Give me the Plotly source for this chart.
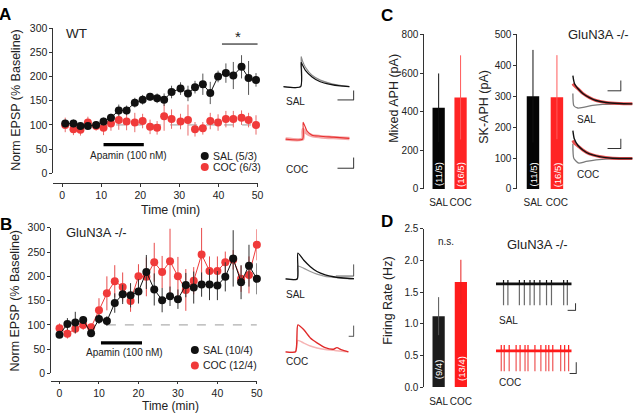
import plotly.graph_objects as go

# ---------------- data ----------------
# Panel A (WT)
A_time = [0.8, 2.9, 4.7, 6.6, 8.7, 10.6, 12.5, 14.5, 16.5, 18.6, 20.6, 22.5, 24.3,
          26.1, 28.0, 30.3, 32.2, 34.0, 36.0, 37.9, 39.9, 41.9, 43.8, 45.9, 47.7, 49.6]
A_sal = [103, 103, 98, 98, 100, 107, 115, 130, 130, 146, 152, 158, 155,
         152, 168, 175, 165, 178, 184, 166, 200, 207, 202, 220, 197, 193]
A_sal_err = [8, 8, 7, 6, 5, 8, 8, 12, 10, 10, 10, 8, 10,
             13, 13, 13, 16, 13, 22, 23, 12, 20, 28, 24, 35, 14]
A_coc = [100, 91, 90, 105, 98, 94, 103, 110, 107, 105, 108, 96, 94,
         118, 112, 107, 110, 91, 93, 108, 105, 112, 112, 115, 110, 100]
A_coc_err = [15, 12, 12, 12, 10, 15, 15, 20, 18, 20, 15, 15, 14,
             30, 20, 16, 32, 15, 13, 17, 17, 17, 17, 15, 15, 20]

# Panel B (GluN3A -/-)
B_time = [0, 2, 4, 6, 8, 10, 12, 14, 16, 18, 20, 22, 24,
          26, 28, 30, 32, 34, 36, 38, 40, 42, 44, 46, 48, 50]
B_sal = [80, 102, 105, 110, 83, 112, 108, 145, 163, 161, 169, 209, 173,
         151, 159, 153, 182, 177, 183, 183, 181, 199, 237, 188, 222, 195]
B_sal_err = [6, 12, 22, 8, 8, 10, 10, 20, 20, 25, 25, 35, 33,
             25, 20, 20, 25, 33, 25, 32, 30, 30, 58, 35, 43, 32]
B_coc = [93, 82, 92, 100, 95, 130, 165, 190, 178, 149, 200, 199, 229,
         209, 231, 200, 172, 191, 245, 211, 211, 229, 234, 195, 203, 265]
B_coc_err = [10, 10, 10, 10, 8, 25, 35, 33, 30, 22, 25, 40, 40,
             33, 67, 40, 43, 28, 55, 30, 30, 22, 20, 27, 38, 32]

# Panel C / D bars
groups = ["SAL", "COC"]
C_mixed = [420, 474]
C_mixed_err = [178, 218]
C_mixed_n = ["(11/5)", "(16/5)"]
C_sk = [300, 297]
C_sk_err = [150, 136]
C_sk_n = ["(11/5)", "(16/5)"]
D_rate = [1.12, 1.66]
D_rate_err = [0.30, 0.35]
D_rate_n = ["(9/4)", "(13/4)"]

# Example traces (relative units)
A_sal_tr_t = [0, 17.5, 18, 19.5, 22.3, 29, 37.3, 47.3, 57.3, 66.7]
A_sal_tr_gray = [0, 0, 31, 26, 20, 11.7, 6.7, 3.3, 1.3, 0]
A_sal_tr_black = [0, 0, 25, 22, 16.7, 10, 5, 2.3, 0.7, 0]
A_coc_tr_t = [2.3, 19.5, 20, 24, 29, 37.3, 50.7, 66.7]
A_coc_tr_red = [0, 0, 17.3, 8.3, 4, 3, 2, 0.7]
A_coc_tr_pink = [0, 0, 10, 6, 3.5, 2.5, 1.5, 0.5]

B_sal_tr_t = [2.3, 14, 14.7, 20.7, 27.3, 34, 42.3, 50.7, 60.7, 71.3]
B_sal_tr_black = [0, 0, 26.7, 19.3, 12.7, 7.7, 4.3, 2.3, 1, 0.3]
B_sal_tr_gray = [0, 0, 13.3, 11, 7.7, 5, 2.7, 1.7, 0.7, 0]
B_coc_tr_t = [2.3, 12.3, 14.7, 20.7, 27.3, 34, 42.3, 50.7, 54, 59, 65.7]
B_coc_tr_dark = [0, 0, 27.7, 22.7, 14.3, 9.3, 4.3, 2.7, 4.3, 2, 0]
B_coc_tr_light = [0, 0, 11.7, 9, 6, 4, 2.5, 1.5, 1, 0.5, 0]

C_sal_tr_t = [2.3, 3, 4, 7.3, 12.3, 19, 25.7, 35.7, 49, 62.3]
C_sal_tr_black = [29.3, 25, 21, 16, 11, 6.7, 3.7, 1.7, 0.7, 0.3]
C_sal_tr_red = [21, 20, 19, 16, 11, 6.7, 3.7, 1.7, 0.7, 0.3]
C_sal_tr_gray_t = [2.3, 3.3, 7.3, 14, 22.3, 32.3, 62.3]
C_sal_tr_gray = [11, -1.7, -4, -3, -1.3, -0.3, 0.3]
C_coc_tr_t = [2.3, 3.7, 7.3, 12.3, 19, 29, 42.3, 62.3]
C_coc_tr_black = [28.7, 20.3, 13.7, 8.7, 4.7, 2, 0.3, 0]
C_coc_tr_red = [18.7, 16, 13, 8.7, 4.7, 2, 0.3, 0]
C_coc_tr_gray_t = [2.3, 3.3, 8.3, 15.7, 25.7, 39, 62.3]
C_coc_tr_gray = [15.3, 0, -4.7, -3, -1.3, -0.3, 0]

D_trace_span = [0.7, 76.9]
D_sal_spikes = [8.3, 12.7, 24.3, 29.3, 35, 39.3, 45, 51.7, 56.7, 69, 72.7]
D_coc_spikes = [6, 9, 14, 21, 25, 30, 33, 40, 46, 51, 54, 58, 66, 70, 74]

# ---------------- style ----------------
FONT = "Arial, Liberation Sans, Helvetica, sans-serif"
BLACK = "#111111"
RED = "#f03a3a"
W, H = 640, 420


def PX(x):
    return x / W


def PY(y):
    return 1 - y / H


fig = go.Figure()

# ---- Panel A ----
fig.add_trace(go.Scatter(x=[0, 50], y=[100, 100], mode="lines", xaxis="x", yaxis="y",
                         line=dict(color="#9a9a9a", width=1, dash="dash"), hoverinfo="skip"))
fig.add_trace(go.Scatter(x=A_time, y=A_coc, mode="markers", xaxis="x", yaxis="y", cliponaxis=False,
                         marker=dict(color=RED, size=8),
                         error_y=dict(type="data", array=A_coc_err, color="#e86a6a", thickness=1, width=0)))
fig.add_trace(go.Scatter(x=A_time, y=A_sal, mode="lines+markers", xaxis="x", yaxis="y", cliponaxis=False,
                         line=dict(color=BLACK, width=1),
                         marker=dict(color=BLACK, size=8),
                         error_y=dict(type="data", array=A_sal_err, color="#555555", thickness=1, width=0)))

# ---- Panel B ----
fig.add_trace(go.Scatter(x=[12, 50], y=[100, 100], mode="lines", xaxis="x2", yaxis="y2",
                         line=dict(color="#9a9a9a", width=1, dash="dash"), hoverinfo="skip"))
fig.add_trace(go.Scatter(x=B_time, y=B_coc, mode="lines+markers", xaxis="x2", yaxis="y2", cliponaxis=False,
                         line=dict(color=RED, width=1),
                         marker=dict(color=RED, size=8),
                         error_y=dict(type="data", array=B_coc_err, color="#e84a4a", thickness=1, width=0)))
fig.add_trace(go.Scatter(x=B_time, y=B_sal, mode="lines+markers", xaxis="x2", yaxis="y2", cliponaxis=False,
                         line=dict(color=BLACK, width=1),
                         marker=dict(color=BLACK, size=8),
                         error_y=dict(type="data", array=B_sal_err, color="#333333", thickness=1, width=0)))


# ---- Bars ----
def add_bars(xa, ya, vals, errs, cols, ecols, width):
    for i in range(2):
        fig.add_trace(go.Bar(x=[i], y=[vals[i]], xaxis=xa, yaxis=ya, width=width,
                             marker=dict(color=cols[i], line=dict(width=0)),
                             error_y=dict(type="data", array=[errs[i]], color=ecols[i], thickness=1, width=0)))


add_bars("x3", "y3", C_mixed, C_mixed_err, ["#050505", "#ff2424"], ["#111111", "#ff5a5a"], 0.56)
add_bars("x4", "y4", C_sk, C_sk_err, ["#050505", "#ff2424"], ["#111111", "#ff5a5a"], 0.52)
add_bars("x5", "y5", D_rate, D_rate_err, ["#1c1c1c", "#ff1c1c"], ["#555555", "#e82020"], 0.55)


def line(xa, ya, x, y, color, width):
    fig.add_trace(go.Scatter(x=x, y=y, mode="lines", xaxis=xa, yaxis=ya, cliponaxis=False,
                             line=dict(color=color, width=width, shape="spline", smoothing=0.6),
                             hoverinfo="skip"))


def segs(xa, ya, xs, lo, hi, color, width):
    xx, yy = [], []
    for s in xs:
        xx += [s, s, None]
        yy += [lo, hi, None]
    fig.add_trace(go.Scatter(x=xx, y=yy, mode="lines", xaxis=xa, yaxis=ya, cliponaxis=False,
                             line=dict(color=color, width=width), hoverinfo="skip"))


# A insets
line("x6", "y6", A_sal_tr_t, A_sal_tr_gray, "#8a8a8a", 1.2)
line("x6", "y6", A_sal_tr_t, A_sal_tr_black, "#111111", 1.2)
line("x7", "y7", A_coc_tr_t, A_coc_tr_pink, "#f5a8a8", 3.5)
line("x7", "y7", A_coc_tr_t, A_coc_tr_red, "#e83030", 1.1)
# B insets
line("x8", "y8", B_sal_tr_t, B_sal_tr_gray, "#9a9a9a", 1.3)
line("x8", "y8", B_sal_tr_t, B_sal_tr_black, "#111111", 1.3)
line("x9", "y9", B_coc_tr_t, B_coc_tr_light, "#f6b4b4", 1.5)
line("x9", "y9", B_coc_tr_t, B_coc_tr_dark, "#e02a2a", 1.4)
# C insets
line("x10", "y10", C_sal_tr_gray_t, C_sal_tr_gray, "#7a7a7a", 1.3)
line("x10", "y10", C_sal_tr_t, C_sal_tr_red, "#e85050", 3)
line("x10", "y10", C_sal_tr_t, C_sal_tr_black, "#111111", 1.4)
line("x11", "y11", C_coc_tr_gray_t, C_coc_tr_gray, "#7a7a7a", 1.3)
line("x11", "y11", C_coc_tr_t, C_coc_tr_red, "#e85050", 3)
line("x11", "y11", C_coc_tr_t, C_coc_tr_black, "#111111", 1.4)
# D insets
segs("x12", "y12", D_sal_spikes, 0, -22, "#6a6a6a", 1.2)
fig.add_trace(go.Scatter(x=D_trace_span, y=[0, 0], mode="lines", xaxis="x12", yaxis="y12",
                         line=dict(color="#111111", width=2.6), hoverinfo="skip"))
segs("x12", "y12", D_sal_spikes, 0, 4, "#111111", 1.2)
segs("x13", "y13", D_coc_spikes, 0, -21, "#ee5555", 1.2)
fig.add_trace(go.Scatter(x=D_trace_span, y=[0, 0], mode="lines", xaxis="x13", yaxis="y13",
                         line=dict(color="#ff1a1a", width=2.8), hoverinfo="skip"))
segs("x13", "y13", D_coc_spikes, 0, 6, "#ff1a1a", 1.2)

# legend glyph markers (A, B)
fig.add_trace(go.Scatter(x=[PX(206.7), PX(206.7), PX(196.7), PX(196.7)],
                         y=[PY(154.3), PY(165.7), PY(354), PY(370)],
                         mode="markers", xaxis="x14", yaxis="y14", cliponaxis=False,
                         marker=dict(color=[BLACK, RED, BLACK, RED], size=8), hoverinfo="skip"))

# ---------------- layout ----------------
tick = dict(showgrid=False, zeroline=False, linecolor="#333", linewidth=1,
            ticks="outside", ticklen=3, tickwidth=1, tickcolor="#333", tickangle=0,
            tickfont=dict(size=10.5, color="#222", family=FONT))


def hidden(domx, domy, rx, ry, anchor):
    return (dict(domain=domx, range=rx, visible=False, fixedrange=True, anchor=anchor[1]),
            dict(domain=domy, range=ry, visible=False, fixedrange=True, anchor=anchor[0]))


small = dict(size=10, color="#222", family=FONT)
layout = dict(
    width=W, height=H, margin=dict(l=0, r=0, t=0, b=0),
    paper_bgcolor="white", plot_bgcolor="rgba(0,0,0,0)",
    showlegend=False, barmode="overlay", font=dict(family=FONT, color="#222"),
    xaxis=dict(tick, domain=[PX(54), PX(260)], range=[-2.2, 50], anchor="free", position=PY(181.7),
               showline=True, tickvals=[0, 10, 20, 30, 40, 50]),
    yaxis=dict(tick, domain=[PY(172.3), PY(22.7)], range=[0, 300], anchor="x", showline=True,
               tickvals=[0, 50, 100, 150, 200, 250, 300]),
    xaxis2=dict(tick, domain=[PX(51.7), PX(259.3)], range=[-2.1, 50], anchor="free", position=PY(386.5),
                showline=True, tickvals=[0, 10, 20, 30, 40, 50], ticklen=2),
    yaxis2=dict(tick, domain=[PY(378.3), PY(228.3)], range=[0, 300], anchor="x2", showline=True,
                tickvals=[0, 50, 100, 150, 200, 250, 300]),
    xaxis3=dict(tick, domain=[PX(428.3), PX(478.2)], range=[-0.656, 1.6], anchor="y3", showline=False,
                tickvals=[0, 1], ticktext=groups, ticklen=4, tickcolor="rgba(0,0,0,0)", tickfont=small),
    yaxis3=dict(tick, domain=[PY(188.3), PY(29.3)], range=[0, 800], anchor="x3", showline=True,
                tickvals=[0, 200, 400, 600, 800], tickfont=small),
    xaxis4=dict(tick, domain=[PX(522.3), PX(576.7)], range=[-0.65, 1.6], anchor="y4", showline=False,
                tickvals=[0, 1], ticktext=groups, ticklen=4, tickcolor="rgba(0,0,0,0)", tickfont=small),
    yaxis4=dict(tick, domain=[PY(188.3), PY(29.3)], range=[0, 500], anchor="x4", showline=True,
                tickvals=[0, 100, 200, 300, 400, 500], tickfont=small),
    xaxis5=dict(tick, domain=[PX(428.3), PX(478.7)], range=[-0.645, 1.6], anchor="y5", showline=False,
                tickvals=[0, 1], ticktext=groups, ticklen=5, tickcolor="rgba(0,0,0,0)", tickfont=small),
    yaxis5=dict(tick, domain=[PY(392.3), PY(229.3)], range=[0, 2.5], anchor="x5", showline=True,
                tickvals=[0, 0.5, 1.0, 1.5, 2.0, 2.5], ticktext=["0.0", "0.5", "1.0", "1.5", "2.0", "2.5"],
                tickfont=small),
)

insets = {
    6: ([PX(286), PX(356)], [PY(86), PY(50)], [0, 70], [-3, 33]),
    7: ([PX(286), PX(356)], [PY(140), PY(115)], [0, 70], [-3, 22]),
    8: ([PX(286), PX(358)], [PY(284), PY(251)], [0, 72], [-3, 30]),
    9: ([PX(286), PX(358)], [PY(359), PY(325)], [0, 72], [-3, 31]),
    10: ([PX(576), PX(640)], [PY(109), PY(68)], [0, 64], [-8, 33]),
    11: ([PX(576), PX(640)], [PY(165), PY(124)], [0, 64], [-8, 33]),
    12: ([PX(500), PX(578)], [PY(311), PY(277)], [0, 78], [-25, 9]),
    13: ([PX(500), PX(578)], [PY(380), PY(343)], [0, 78], [-25, 12]),
    14: ([0, 1], [0, 1], [0, 1], [0, 1]),
}
for k, (dx, dy, rx, ry) in insets.items():
    xa, ya = hidden(dx, dy, rx, ry, ("x%d" % k, "y%d" % k))
    layout["xaxis%d" % k] = xa
    layout["yaxis%d" % k] = ya

anns = []


def ann(text, x, y, size=10.5, xanchor="center", yanchor="middle", xref="paper", yref="paper",
        angle=0, color="#222", bold=False):
    if xref == "paper":
        x = PX(x)
    if yref == "paper":
        y = PY(y)
    anns.append(dict(text=("<b>%s</b>" % text) if bold else text, x=x, y=y, xref=xref, yref=yref,
                     xanchor=xanchor, yanchor=yanchor, showarrow=False, textangle=angle,
                     font=dict(size=size, color=color, family=FONT)))


# panel letters
ann("A", 5, 9, 17, bold=True, color="#000")
ann("B", 6, 225, 17, bold=True, color="#000")
ann("C", 391, 10, 17, bold=True, color="#000")
ann("D", 391, 222, 17, bold=True, color="#000")

# panel A/B texts
ann("Norm EPSP (% Baseline)", 16, 96.7, 12.5, angle=-90)
ann("Norm EPSP (% Baseline)", 15, 303.3, 12.5, angle=-90)
ann("Time (min)", 172.5, 210, 12.5)
ann("Time (min)", 172.5, 412, 12)
ann("WT", 65, 28.3, 13.5, xanchor="left")
ann("GluN3A -/-", 65, 233.3, 13, xanchor="left")
ann("Apamin (100 nM)", 130, 154, 10)
ann("Apamin (100 nM)", 126, 356.7, 10)
ann("*", 240, 31, 15)
ann("SAL (5/3)", 213, 154.3, 10.5, xanchor="left")
ann("COC (6/3)", 213, 165.7, 10.5, xanchor="left")
ann("SAL (10/4)", 203, 354, 10.5, xanchor="left")
ann("COC (12/4)", 203, 370, 10.5, xanchor="left")

# inset labels
ann("SAL", 287, 98, 10, xanchor="left")
ann("COC", 287, 168, 10, xanchor="left")
ann("SAL", 287, 297, 10, xanchor="left")
ann("COC", 287, 366, 10, xanchor="left")
ann("SAL", 580, 116.7, 10, xanchor="left")
ann("COC", 580, 173.3, 10, xanchor="left")
ann("SAL", 501.7, 324, 10, xanchor="left")
ann("COC", 501.7, 387.7, 10, xanchor="left")

# C/D texts
ann("Mixed APH (pA)", 398.3, 95, 12.5, angle=-90)
ann("SK-APH (pA)", 488.3, 104, 12.5, angle=-90)
ann("Firing Rate (Hz)", 391.7, 303.3, 12.5, angle=-90)
ann("GluN3A -/-", 604, 29.3, 13)
ann("GluN3A -/-", 542.3, 245, 13)
ann("n.s.", 450, 242.7, 10)

# bar n labels (white, rotated)
for i in range(2):
    ann(C_mixed_n[i], i, 75, 9.5, xref="x3", yref="y3", angle=-90, color="white")
    ann(C_sk_n[i], i, 47, 9.5, xref="x4", yref="y4", angle=-90, color="white")
    ann(D_rate_n[i], i, [0.276, 0.30][i], 9.5, xref="x5", yref="y5", angle=-90, color="white")

layout["annotations"] = anns

# shapes: apamin bars, significance bar, scale bars
shapes = []


def seg(x0, y0, x1, y1, width=1, color="#222", xref="paper", yref="paper"):
    if xref == "paper":
        x0, x1 = PX(x0), PX(x1)
    if yref == "paper":
        y0, y1 = PY(y0), PY(y1)
    shapes.append(dict(type="line", x0=x0, y0=y0, x1=x1, y1=y1, xref=xref, yref=yref,
                       line=dict(color=color, width=width)))


seg(10.6, 59.5, 20.9, 59.5, 3.2, "#000", "x", "y")
seg(10.5, 63, 20.9, 63, 3.2, "#000", "x2", "y2")
seg(40.9, 267, 50.2, 267, 1, "#000", "x", "y")
# scale bars
seg(357, 87, 357, 96.7, 1, "#333"); seg(340.7, 96.7, 357.3, 96.7, 1, "#333")
seg(357, 156, 357, 167, 1, "#333"); seg(340.7, 167, 357.3, 167, 1, "#333")
seg(357, 266, 357, 278, 1, "#555"); seg(339, 278, 357.3, 278, 1, "#555")
seg(357, 329, 357, 340, 1, "#555"); seg(352, 340, 357.3, 340, 1, "#555")
seg(626.7, 76.7, 626.7, 87.3, 1, "#333"); seg(613.3, 87.3, 627, 87.3, 1, "#333")
seg(626.7, 136.7, 626.7, 146.7, 1, "#333"); seg(613.3, 146.7, 627, 146.7, 1, "#333")
seg(581, 306, 581, 313.3, 1, "#333"); seg(573, 313.3, 581.3, 313.3, 1, "#333")
seg(581.7, 366.7, 581.7, 378.3, 1, "#333"); seg(575, 378.3, 582, 378.3, 1, "#333")
layout["shapes"] = shapes

fig.update_layout(**layout)
fig.write_html("out.html", config={"displayModeBar": False},
               post_script="document.body.style.margin='0';document.body.style.overflow='hidden';")
